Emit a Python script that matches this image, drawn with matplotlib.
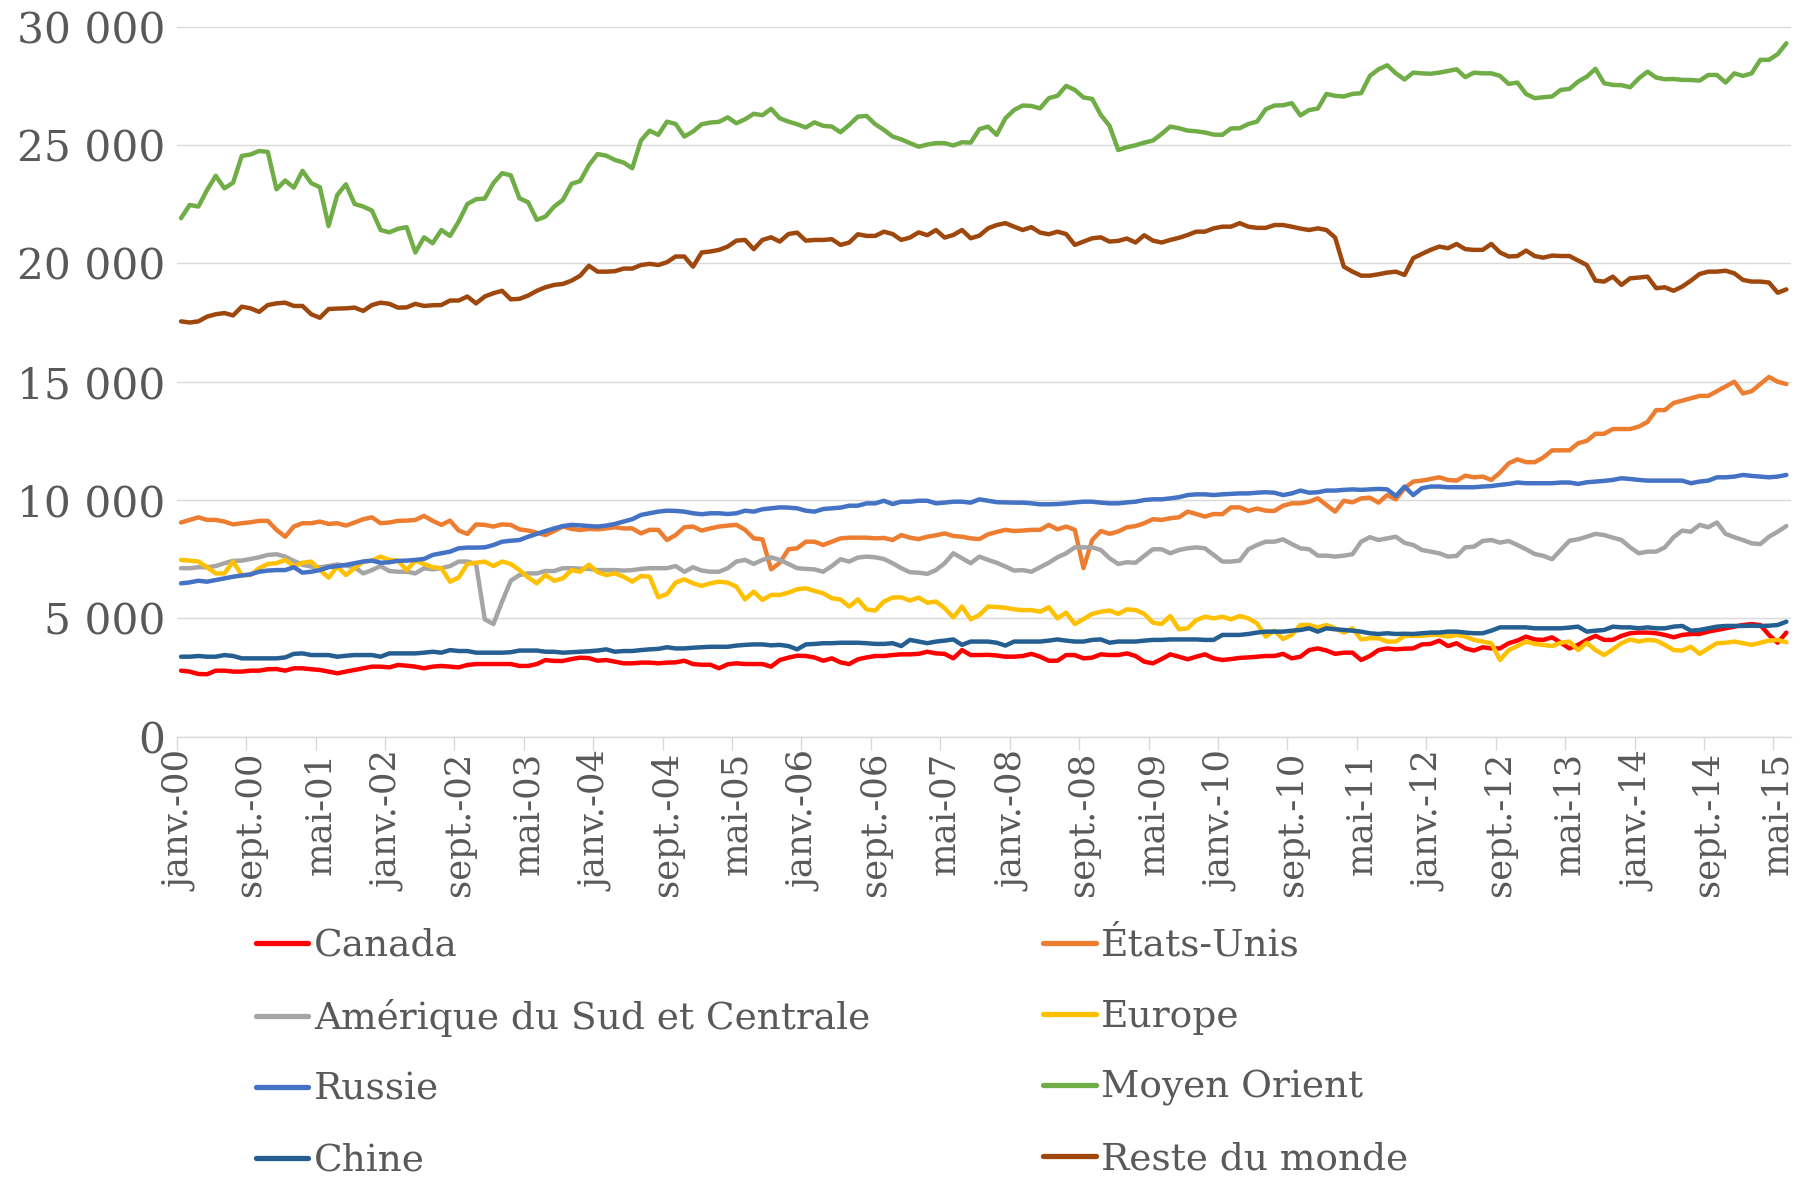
import matplotlib
matplotlib.use("Agg")
import matplotlib.pyplot as plt
import numpy as np

# monthly values, janv. 2000 -> juin 2015 (186 months)
canada = [
    2790, 2750, 2650, 2640, 2790, 2790, 2750, 2750, 2790, 2790,
    2850, 2860, 2790, 2890, 2890, 2850, 2820, 2750, 2680, 2750,
    2820, 2890, 2960, 2960, 2930, 3030, 3000, 2960, 2890, 2960,
    2990, 2960, 2930, 3030, 3070, 3070, 3070, 3070, 3070, 2990,
    2990, 3070, 3240, 3200, 3200, 3280, 3340, 3320, 3210, 3240,
    3170, 3100, 3100, 3130, 3130, 3100, 3130, 3140, 3210, 3070,
    3040, 3040, 2890, 3060, 3100, 3070, 3070, 3070, 2960, 3240,
    3340, 3420, 3410, 3350, 3210, 3310, 3140, 3070, 3270, 3350,
    3410, 3410, 3450, 3480, 3480, 3500, 3590, 3520, 3500, 3310,
    3660, 3450, 3450, 3460, 3430, 3380, 3380, 3410, 3500, 3380,
    3210, 3210, 3450, 3450, 3310, 3340, 3480, 3450, 3450, 3520,
    3410, 3170, 3100, 3280, 3480, 3380, 3270, 3380, 3480, 3310,
    3240, 3280, 3330, 3350, 3380, 3410, 3410, 3500, 3310, 3380,
    3660, 3730, 3640, 3500, 3550, 3550, 3240, 3410, 3660, 3730,
    3690, 3720, 3730, 3900, 3920, 4060, 3830, 3950, 3730, 3640,
    3780, 3730, 3730, 3950, 4060, 4230, 4110, 4090, 4200, 3970,
    3730, 3880, 4090, 4260, 4090, 4090, 4260, 4370, 4400, 4400,
    4370, 4300, 4200, 4300, 4340, 4340, 4440, 4510, 4580, 4650,
    4720, 4760, 4720, 4300, 3970, 4400,
]
etats_unis = [
    9050, 9160, 9270, 9160, 9160, 9090, 8970, 9020, 9060, 9120,
    9120, 8740, 8450, 8880, 9020, 9020, 9090, 8990, 9020, 8920,
    9050, 9190, 9270, 9020, 9050, 9120, 9130, 9160, 9330, 9120,
    8950, 9130, 8710, 8570, 8970, 8950, 8880, 8970, 8950, 8760,
    8710, 8620, 8520, 8690, 8880, 8780, 8735, 8780, 8760, 8800,
    8850, 8800, 8800, 8590, 8740, 8740, 8310, 8520, 8850, 8880,
    8710, 8800, 8880, 8920, 8950, 8740, 8380, 8340, 7070, 7350,
    7920, 7960, 8240, 8240, 8100, 8240, 8380, 8410, 8410, 8410,
    8380, 8400, 8310, 8520, 8410, 8350, 8450, 8510, 8590, 8480,
    8450, 8380, 8350, 8550, 8650, 8740, 8690, 8710, 8740, 8740,
    8950, 8760, 8880, 8740, 7120, 8310, 8690, 8570, 8670, 8850,
    8900, 9020, 9190, 9160, 9230, 9270, 9510, 9410, 9300, 9410,
    9400, 9690, 9690, 9540, 9640, 9550, 9540, 9760, 9860, 9860,
    9930, 10070, 9790, 9510, 9970, 9900, 10070, 10100, 9890, 10210,
    10030, 10500, 10780, 10820, 10890, 10960, 10850, 10820, 11030, 10960,
    10990, 10850, 11160, 11550, 11720, 11600, 11600, 11800, 12100, 12100,
    12100, 12400, 12500, 12800, 12800, 13000, 13000, 13000, 13100, 13300,
    13800, 13800, 14100, 14200, 14300, 14400, 14400, 14600, 14800, 15000,
    14500, 14600, 14900, 15200, 15000, 14900,
]
amerique = [
    7120, 7120, 7160, 7160, 7210, 7330, 7430, 7440, 7510, 7580,
    7680, 7710, 7610, 7430, 7260, 7190, 7160, 7210, 7280, 7230,
    7160, 6900, 7040, 7210, 7000, 6970, 6970, 6900, 7120, 7070,
    7120, 7210, 7400, 7400, 7300, 4960, 4760, 5710, 6590, 6830,
    6900, 6900, 7000, 7000, 7120, 7120, 7100, 7090, 7040, 7040,
    7040, 7020, 7040, 7090, 7120, 7120, 7120, 7210, 6970, 7160,
    7020, 6970, 6970, 7120, 7400, 7470, 7300, 7470, 7580, 7470,
    7300, 7120, 7090, 7070, 6970, 7210, 7500, 7400, 7570, 7610,
    7580, 7510, 7330, 7120, 6950, 6930, 6880, 7040, 7330, 7750,
    7540, 7330, 7610, 7470, 7350, 7190, 7020, 7040, 6970, 7160,
    7350, 7580, 7750, 8000, 8000, 8000, 7890, 7540, 7300, 7370,
    7350, 7640, 7920, 7920, 7750, 7890, 7960, 8000, 7960, 7680,
    7400, 7400, 7440, 7920, 8100, 8240, 8240, 8340, 8140, 7960,
    7920, 7650, 7650, 7610, 7650, 7710, 8240, 8430, 8310, 8380,
    8450, 8190, 8100, 7890, 7820, 7750, 7610, 7640, 8000, 8030,
    8270, 8310, 8200, 8270, 8100, 7920, 7720, 7640, 7500, 7890,
    8280, 8340, 8450, 8570, 8520, 8410, 8310, 8000, 7750, 7820,
    7820, 8000, 8430, 8710, 8660, 8950, 8850, 9050, 8570, 8430,
    8310, 8170, 8140, 8450, 8660, 8900,
]
europe = [
    7470, 7440, 7400, 7160, 6900, 6900, 7400, 6830, 6830, 7120,
    7300, 7330, 7470, 7210, 7350, 7400, 7040, 6720, 7190, 6830,
    7120, 7400, 7440, 7610, 7470, 7440, 7040, 7440, 7300, 7160,
    7120, 6550, 6730, 7300, 7350, 7400, 7210, 7400, 7300, 7040,
    6730, 6480, 6830, 6590, 6690, 7040, 6970, 7270, 6950, 6830,
    6900, 6760, 6550, 6790, 6760, 5890, 6030, 6510, 6650, 6480,
    6370, 6480, 6550, 6510, 6340, 5800, 6130, 5780, 5990, 5990,
    6090, 6230, 6270, 6160, 6060, 5850, 5800, 5500, 5800, 5380,
    5330, 5710, 5880, 5890, 5750, 5880, 5660, 5710, 5430, 5040,
    5500, 4960, 5140, 5500, 5480, 5450, 5380, 5350, 5350, 5280,
    5470, 5000, 5240, 4760, 4970, 5190, 5280, 5330, 5190, 5380,
    5350, 5190, 4820, 4760, 5100, 4540, 4580, 4930, 5070, 5000,
    5070, 4960, 5100, 5000, 4790, 4230, 4480, 4130, 4300, 4720,
    4720, 4620, 4720, 4580, 4400, 4580, 4110, 4160, 4160, 4020,
    4020, 4260, 4260, 4260, 4300, 4300, 4230, 4300, 4230, 4090,
    4020, 3950, 3240, 3660, 3830, 4020, 3920, 3880, 3830, 3970,
    4020, 3660, 3970, 3660, 3450, 3690, 3950, 4110, 4020, 4090,
    4060, 3880, 3660, 3640, 3800, 3500, 3730, 3950, 3970, 4020,
    3950, 3880, 3970, 4060, 4090, 3990,
]
russie = [
    6480, 6520, 6590, 6550, 6620, 6690, 6760, 6810, 6860, 6970,
    7020, 7040, 7040, 7160, 6930, 6970, 7040, 7160, 7210, 7260,
    7330, 7400, 7440, 7350, 7370, 7430, 7440, 7470, 7510, 7680,
    7750, 7820, 7960, 7990, 7990, 8000, 8100, 8240, 8280, 8310,
    8450, 8570, 8690, 8800, 8900, 8950, 8930, 8900, 8880, 8920,
    8990, 9090, 9190, 9370, 9440, 9510, 9550, 9540, 9510, 9440,
    9400, 9440, 9440, 9410, 9440, 9550, 9510, 9610, 9650, 9690,
    9680, 9650, 9550, 9510, 9620, 9650, 9680, 9760, 9760, 9860,
    9860, 9970, 9830, 9930, 9930, 9970, 9970, 9860, 9890, 9930,
    9930, 9890, 10030, 9970, 9910, 9900, 9890, 9890, 9860, 9820,
    9820, 9830, 9860, 9900, 9930, 9930, 9890, 9860, 9860, 9900,
    9930, 10000, 10030, 10030, 10070, 10120, 10210, 10240, 10240, 10210,
    10240, 10260, 10280, 10280, 10310, 10330, 10310, 10210, 10280, 10400,
    10310, 10330, 10400, 10400, 10430, 10450, 10430, 10450, 10470, 10450,
    10170, 10570, 10210, 10500, 10570, 10570, 10540, 10540, 10540, 10540,
    10570, 10590, 10640, 10680, 10740, 10710, 10710, 10710, 10710, 10740,
    10740, 10680, 10750, 10780, 10810, 10850, 10920, 10890, 10850, 10820,
    10820, 10820, 10820, 10820, 10710, 10780, 10820, 10960, 10960, 10990,
    11060, 11020, 10990, 10960, 10990, 11060,
]
moyen_orient = [
    21910, 22470, 22400, 23100, 23700, 23170, 23410, 24540, 24600, 24750,
    24710, 23130, 23500, 23200, 23910, 23390, 23220, 21580, 22890, 23340,
    22510, 22400, 22230, 21410, 21310, 21460, 21530, 20460, 21100, 20850,
    21410, 21160, 21770, 22510, 22710, 22740, 23390, 23810, 23720, 22750,
    22580, 21840, 21980, 22400, 22680, 23360, 23480, 24150, 24620, 24550,
    24370, 24260, 24020, 25190, 25610, 25430, 25990, 25890, 25360, 25570,
    25880, 25950, 25980, 26170, 25920, 26090, 26320, 26260, 26530, 26130,
    25990, 25880, 25740, 25960, 25810, 25780, 25540, 25850, 26200, 26230,
    25880, 25640, 25360, 25240, 25080, 24930, 25020, 25080, 25080, 24980,
    25120, 25100, 25670, 25780, 25430, 26130, 26480, 26670, 26650, 26550,
    26980, 27080, 27500, 27330, 27010, 26950, 26270, 25810, 24790, 24910,
    24990, 25100, 25190, 25470, 25780, 25710, 25610, 25580, 25530, 25440,
    25430, 25700, 25710, 25890, 25990, 26510, 26670, 26680, 26770, 26250,
    26480, 26540, 27160, 27080, 27050, 27160, 27190, 27920, 28200, 28370,
    28030, 27770, 28060, 28030, 28010, 28060, 28130, 28200, 27870, 28060,
    28030, 28030, 27920, 27580, 27640, 27160, 26980, 27020, 27050, 27330,
    27370, 27680, 27890, 28220, 27610, 27540, 27530, 27440, 27820, 28100,
    27850, 27780, 27790, 27750, 27750, 27720, 27960, 27960, 27640, 28030,
    27920, 28030, 28600, 28600, 28840, 29300,
]
chine = [
    3380, 3380, 3410, 3380, 3380, 3450, 3410, 3310, 3310, 3310,
    3310, 3310, 3350, 3500, 3520, 3450, 3450, 3450, 3380, 3420,
    3450, 3450, 3450, 3380, 3520, 3520, 3520, 3520, 3550, 3590,
    3550, 3660, 3620, 3620, 3550, 3550, 3550, 3550, 3570, 3640,
    3640, 3640, 3590, 3590, 3550, 3570, 3590, 3610, 3640, 3690,
    3590, 3620, 3620, 3660, 3690, 3710, 3780, 3730, 3730, 3760,
    3780, 3800, 3800, 3800, 3850, 3880, 3900, 3900, 3860, 3880,
    3830, 3690, 3900, 3920, 3950, 3950, 3970, 3970, 3970, 3950,
    3920, 3920, 3950, 3830, 4090, 4020, 3950, 4020, 4060, 4110,
    3880, 4020, 4020, 4020, 3970, 3850, 4020, 4020, 4020, 4020,
    4060, 4110, 4060, 4020, 4020, 4090, 4110, 3970, 4020, 4020,
    4020, 4060, 4090, 4090, 4110, 4110, 4110, 4110, 4090, 4090,
    4300, 4300, 4300, 4340, 4400, 4440, 4440, 4440, 4480, 4510,
    4580, 4440, 4580, 4540, 4510, 4480, 4440, 4370, 4340, 4370,
    4340, 4350, 4340, 4370, 4400, 4400, 4440, 4440, 4400, 4370,
    4370, 4480, 4620, 4620, 4620, 4620, 4580, 4580, 4580, 4580,
    4610, 4650, 4440, 4480, 4510, 4650, 4620, 4620, 4580, 4620,
    4580, 4580, 4650, 4680, 4480, 4510, 4580, 4650, 4680, 4680,
    4680, 4690, 4680, 4690, 4720, 4860,
]
reste_du_monde = [
    17550, 17500, 17550, 17750, 17850, 17900, 17800, 18170, 18100, 17950,
    18240, 18310, 18340, 18200, 18200, 17850, 17700, 18070, 18090, 18100,
    18130, 17990, 18240, 18340, 18290, 18130, 18140, 18290, 18200, 18230,
    18240, 18430, 18430, 18600, 18310, 18600, 18740, 18840, 18480, 18500,
    18640, 18840, 18990, 19090, 19130, 19270, 19480, 19900, 19650, 19650,
    19670, 19780, 19780, 19930, 19980, 19930, 20050, 20290, 20290, 19860,
    20460, 20500, 20570, 20710, 20960, 20990, 20600, 20990, 21100, 20920,
    21240, 21300, 20960, 20990, 20990, 21020, 20780, 20880, 21230, 21160,
    21160, 21340, 21240, 20990, 21090, 21310, 21190, 21410, 21090, 21200,
    21410, 21060, 21170, 21480, 21620, 21700, 21550, 21410, 21530, 21300,
    21230, 21340, 21240, 20780, 20920, 21060, 21100, 20920, 20950, 21050,
    20880, 21190, 20960, 20880, 20990, 21080, 21200, 21340, 21340, 21480,
    21550, 21550, 21700, 21550, 21500, 21500, 21620, 21620, 21550, 21470,
    21410, 21480, 21410, 21090, 19860, 19650, 19480, 19480, 19540, 19610,
    19650, 19510, 20220, 20400, 20570, 20710, 20640, 20820, 20600, 20570,
    20570, 20820, 20460, 20290, 20310, 20540, 20310, 20240, 20330, 20310,
    20310, 20120, 19930, 19270, 19230, 19440, 19090, 19370, 19400, 19440,
    18950, 18990, 18840, 19020, 19270, 19550, 19650, 19650, 19690, 19580,
    19300, 19230, 19230, 19190, 18760, 18900,
]

# one label every 8 months
tick_labels = ['janv.-00', 'sept.-00', 'mai-01', 'janv.-02', 'sept.-02', 'mai-03',
               'janv.-04', 'sept.-04', 'mai-05', 'janv.-06', 'sept.-06', 'mai-07',
               'janv.-08', 'sept.-08', 'mai-09', 'janv.-10', 'sept.-10', 'mai-11',
               'janv.-12', 'sept.-12', 'mai-13', 'janv.-14', 'sept.-14', 'mai-15']

series = [
    ('Canada', canada, '#FF0000'),
    ('États-Unis', etats_unis, '#ED7D31'),
    ('Amérique du Sud et Centrale', amerique, '#A5A5A5'),
    ('Europe', europe, '#FFC000'),
    ('Russie', russie, '#4472C4'),
    ('Moyen Orient', moyen_orient, '#70AD47'),
    ('Chine', chine, '#255E91'),
    ('Reste du monde', reste_du_monde, '#9E480E'),
]

TXT = '#595959'
GRID = '#D9D9D9'
plt.rcParams['font.family'] = ['DejaVu Serif']

W, H = 1808, 1181
fig = plt.figure(figsize=(W / 100, H / 100), dpi=100)
ax = fig.add_axes([176.7 / W, 1 - 736.7 / H, (1790.7 - 176.7) / W, (736.7 - 26.7) / H])

n = len(canada)
x = np.arange(n)
lines = {}
for name, vals, col in series:
    ln, = ax.plot(x, vals, color=col, lw=3.2, solid_joinstyle='round',
                  solid_capstyle='round', label=name)
    lines[name] = ln

ax.set_xlim(-0.5, n - 0.5)
ax.set_ylim(0, 30000)
ax.set_yticks(np.arange(0, 30001, 5000))
ax.set_yticklabels([f'{v:,}'.replace(',', ' ') for v in range(0, 30001, 5000)])
ax.grid(axis='y', color=GRID, lw=1.0)
ax.set_axisbelow(True)
for s in ['top', 'right', 'left']:
    ax.spines[s].set_visible(False)
ax.spines['bottom'].set_color(GRID)
ax.spines['bottom'].set_linewidth(1.0)

ax.set_xticks(np.arange(0, n, 8))
ax.set_xticklabels(tick_labels, rotation=90, va='top', ha='center')
ax.set_xticks(np.arange(-0.5, n, 8), minor=True)
ax.tick_params(axis='x', which='major', length=0, pad=11, labelsize=25.5, labelcolor=TXT)
ax.tick_params(axis='x', which='minor', length=9, width=1.0, color=GRID)
ax.tick_params(axis='y', length=0, pad=8, labelsize=30.5, labelcolor=TXT)

leg_kw = dict(frameon=False, fontsize=27, labelcolor=TXT, handlelength=1.4,
              handletextpad=0.15, borderpad=0, borderaxespad=0, labelspacing=0.93)
col1 = ['Canada', 'Amérique du Sud et Centrale', 'Russie', 'Chine']
col2 = ['États-Unis', 'Europe', 'Moyen Orient', 'Reste du monde']
leg1 = fig.legend([lines[k] for k in col1], col1, loc='upper left',
                  bbox_to_anchor=(256 / W, 1 - 928 / H), **leg_kw)
leg2 = fig.legend([lines[k] for k in col2], col2, loc='upper left',
                  bbox_to_anchor=(1043 / W, 1 - 928 / H), **leg_kw)
for lg in (leg1, leg2):
    for h in lg.legend_handles:
        h.set_linewidth(3.8)

fig.savefig('out.png', dpi=100)
